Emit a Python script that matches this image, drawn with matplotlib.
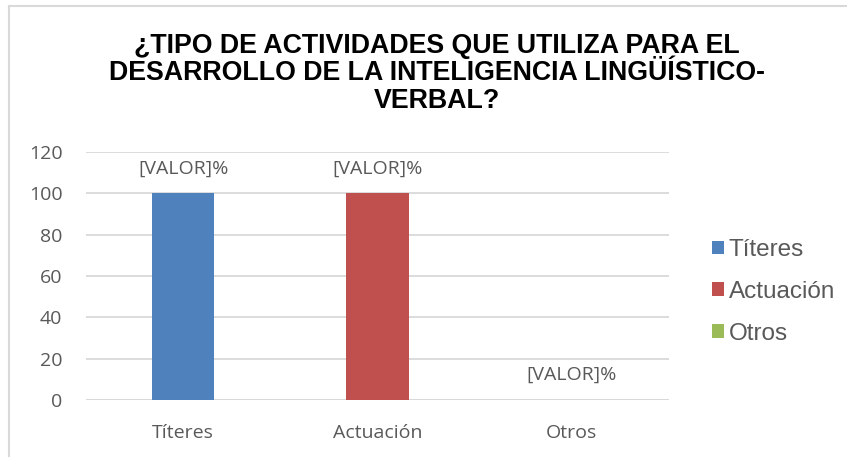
import matplotlib.pyplot as plt
from matplotlib.lines import Line2D
from matplotlib.patches import Patch

categories = ["Títeres", "Actuación", "Otros"]
values = [100, 100, 0]
colors = ["#4F81BD", "#C0504D", "#9BBB59"]
bar_labels = ["[VALOR]%", "[VALOR]%", "[VALOR]%"]
yticks = [0, 20, 40, 60, 80, 100, 120]
title_lines = ["¿TIPO DE ACTIVIDADES QUE UTILIZA PARA EL",
               "DESARROLLO DE LA INTELIGENCIA LINGÜÍSTICO-",
               "VERBAL?"]

W, H = 847, 457
fig = plt.figure(figsize=(W / 100, H / 100), dpi=100)
fig.patch.set_facecolor("white")

# chart frame (left and top only visible)
fig.add_artist(Line2D([9 / W, 9 / W], [0, 1 - 6 / H], color="#D9D9D9", lw=1.5))
fig.add_artist(Line2D([9 / W, 1], [1 - 6 / H, 1 - 6 / H], color="#D9D9D9", lw=1.5))

ax = fig.add_axes([86 / W, 1 - 400 / H, (669 - 86) / W, (400 - 152) / H])
x = range(len(categories))
ax.bar(x, values, width=0.32, color=colors, zorder=3)
ax.set_xlim(-0.5, 2.5)
ax.set_ylim(0, 120)
ax.set_yticks(yticks)
ax.yaxis.grid(True, color="#D9D9D9", lw=1.3, zorder=0)
for s in ax.spines.values():
    s.set_visible(False)
ax.axhline(0, color="#D9D9D9", lw=1.3, zorder=2)
ax.tick_params(length=0)
ax.set_xticks(list(x))
ax.set_xticklabels(categories)
tick_font = dict(family="Open Sans", size=14, color="#595959")
for lab in ax.get_xticklabels() + ax.get_yticklabels():
    lab.set(**tick_font)
ax.tick_params(axis="x", pad=17)
ax.tick_params(axis="y", pad=17)

for xi, v, t in zip(x, values, bar_labels):
    ax.annotate(t, (xi, v), xytext=(0, 25), textcoords="offset pixels",
                ha="center", va="center", **tick_font)

# title, one text per line to control spacing
for i, line in enumerate(title_lines):
    fig.text(437 / W, 1 - (46 + 27.5 * i) / H, line, ha="center", va="center",
             family="Liberation Sans", weight="bold", size=19.3, color="black")

handles = [Patch(facecolor=c, edgecolor="none") for c in colors]
leg = fig.legend(handles, categories, loc="center left", bbox_to_anchor=(690 / W, 1 - 292 / H),
                 frameon=False, handlelength=0.5, handleheight=0.5, handletextpad=0.2,
                 labelspacing=0.82, prop=dict(family="Liberation Sans", size=17.5))
for t in leg.get_texts():
    t.set_color("#595959")

fig.savefig("out.png", dpi=100)
